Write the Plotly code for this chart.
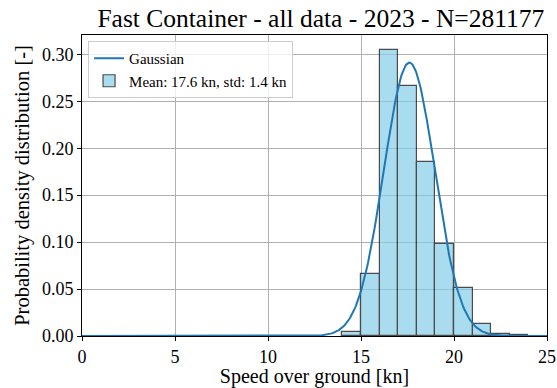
import numpy as np
import plotly.graph_objects as go

# Histogram data (bin edges and densities)
bin_left = [14, 15, 16, 17, 18, 19, 20, 21, 22, 23]
density = [0.0043, 0.0664, 0.3047, 0.2660, 0.1857, 0.0977, 0.0515, 0.0124, 0.0021, 0.0007]
bin_width = 1.0

# Gaussian fit parameters
mean_kn = 17.6
std_kn = 1.37
x_range = [0, 25]

title = "Fast Container - all data - 2023 - N=281177"
hist_label = "Mean: 17.6 kn, std: 1.4 kn"
gauss_label = "Gaussian"

centers = [b + bin_width / 2 for b in bin_left]
xg = np.linspace(x_range[0], x_range[1], 500)
yg = np.exp(-0.5 * ((xg - mean_kn) / std_kn) ** 2) / (std_kn * np.sqrt(2 * np.pi))

FONT = "Liberation Serif"

fig = go.Figure()
fig.add_trace(go.Bar(
    x=centers, y=density, width=bin_width, name=hist_label,
    marker=dict(color="#87CEEB", line=dict(color="black", width=1.2)),
    opacity=0.7, legendrank=2,
))
fig.add_trace(go.Scatter(
    x=xg, y=yg, mode="lines", name=gauss_label,
    line=dict(color="#1f77b4", width=2), legendrank=1,
))

axis_common = dict(
    showline=True, linecolor="black", linewidth=1, mirror=True,
    ticks="outside", ticklen=4, tickcolor="black",
    showgrid=True, gridcolor="#b0b0b0", gridwidth=1, zeroline=False,
    tickfont=dict(family=FONT, size=18, color="black"),
    automargin=False,
)

fig.update_layout(
    width=557, height=388,
    margin=dict(l=82, r=10, t=35, b=52),
    paper_bgcolor="white", plot_bgcolor="white",
    title=dict(text=title, x=0.576, xanchor="center", y=0.953, yanchor="middle",
               font=dict(family=FONT, size=25.5, color="black"), automargin=False),
    xaxis=dict(range=x_range, tickvals=[0, 5, 10, 15, 20, 25],
               title=dict(text="Speed over ground [kn]", standoff=6,
                          font=dict(family=FONT, size=20, color="black")),
               **axis_common),
    yaxis=dict(range=[0, 0.3206], tickvals=[0, 0.05, 0.10, 0.15, 0.20, 0.25, 0.30],
               tickformat=".2f",
               title=dict(text="Probability density distribution [-]", standoff=6,
                          font=dict(family=FONT, size=20.5, color="black")),
               **axis_common),
    legend=dict(x=0.013, y=0.98, xanchor="left", yanchor="top",
                bgcolor="rgba(255,255,255,0.8)", bordercolor="#cccccc", borderwidth=1,
                font=dict(family=FONT, size=15, color="black"),
                tracegroupgap=0, itemwidth=30),
    showlegend=True,
    bargap=0,
)

fig.write_html("out.html")
